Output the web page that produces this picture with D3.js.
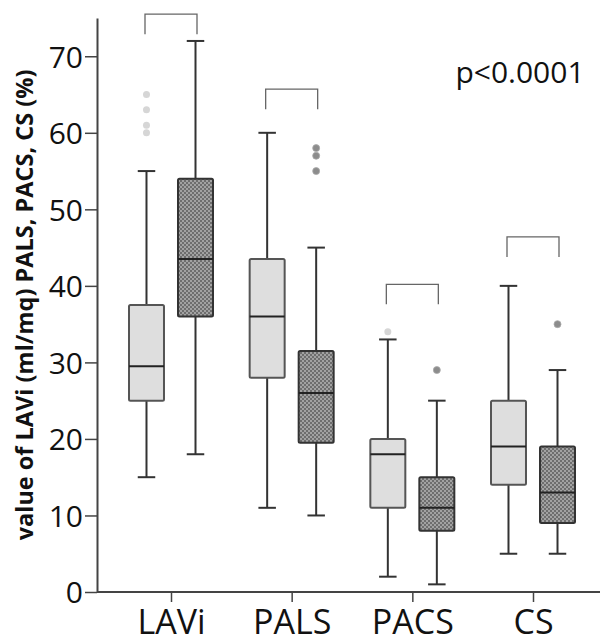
<!DOCTYPE html>
<html>
<head>
<meta charset="utf-8">
<script src="https://cdn.jsdelivr.net/npm/d3@7"></script>
<style>
  body { margin: 0; background: #fff; }
  svg { display: block; }
</style>
</head>
<body>
<div id="chart"></div>
<script>
// categories and groups
const categories = ['LAVi', 'PALS', 'PACS', 'CS'];
const groups = ['light', 'dark'];

// box statistics per group, in category order
const lightMin = [15, 11, 2, 5];
const lightQ1 = [25, 28, 11, 14];
const lightMedian = [29.5, 36, 18, 19];
const lightQ3 = [37.5, 43.5, 20, 25];
const lightMax = [55, 60, 33, 40];
const lightOutliers = [[60, 61, 63, 65], [], [34], []];

const darkMin = [18, 10, 1, 5];
const darkQ1 = [36, 19.5, 8, 9];
const darkMedian = [43.5, 26, 11, 13];
const darkQ3 = [54, 31.5, 15, 19];
const darkMax = [72, 45, 25, 29];
const darkOutliers = [[], [55, 57, 58], [29], [35]];

// significance bracket tops (in axis units)
const bracketTop = [75.5, 65.7, 40.2, 46.4];

const yTicks = [0, 10, 20, 30, 40, 50, 60, 70];
const pText = 'p<0.0001';

const width = 602;
const height = 643;
const margin = { top: 18, right: 2, bottom: 51, left: 97 };

const svg = d3.select('#chart')
	.append('svg')
	.attr('width', width)
	.attr('height', height);

// checkered fill for the second group
const defs = svg.append('defs');
const pat = defs.append('pattern')
	.attr('id', 'checker')
	.attr('patternUnits', 'userSpaceOnUse')
	.attr('width', 4)
	.attr('height', 4);
pat.append('rect').attr('width', 4).attr('height', 4).attr('fill', '#a2a2a2');
pat.append('rect').attr('width', 2).attr('height', 2).attr('fill', '#6e6e6e');
pat.append('rect').attr('x', 2).attr('y', 2).attr('width', 2).attr('height', 2).attr('fill', '#6e6e6e');

const y = d3.scaleLinear()
	.domain([0, 75])
	.range([height - margin.bottom, margin.top]);

const x = d3.scalePoint()
	.domain(categories)
	.range([171, 533]);

const sub = d3.scaleBand()
	.domain(groups)
	.range([-42, 42])
	.paddingInner(0.286)
	.paddingOuter(0);

const boxW = sub.bandwidth();

// build rows
const rows = [];
categories.forEach((c, i) => {
	rows.push({ cat: c, group: 'light', min: lightMin[i], q1: lightQ1[i], med: lightMedian[i], q3: lightQ3[i], max: lightMax[i], out: lightOutliers[i] });
	rows.push({ cat: c, group: 'dark', min: darkMin[i], q1: darkQ1[i], med: darkMedian[i], q3: darkQ3[i], max: darkMax[i], out: darkOutliers[i] });
});
const cx = (d) => x(d.cat) + sub(d.group) + boxW / 2;

// axes
const yAxis = svg.append('g')
	.attr('transform', `translate(${margin.left},0)`)
	.call(d3.axisLeft(y).tickValues(yTicks).tickSize(12).tickPadding(2).tickSizeOuter(0));
yAxis.select('.domain').attr('stroke', '#444').attr('stroke-width', 2);
yAxis.selectAll('.tick line').attr('stroke', '#444').attr('stroke-width', 1.5);
yAxis.selectAll('.tick text')
	.attr('fill', '#111')
	.style('font-family', '"Open Sans", sans-serif')
	.style('font-size', '30px')
	.attr('dy', '0.36em');

const xAxis = svg.append('g')
	.attr('transform', `translate(0,${y(0)})`)
	.call(d3.axisBottom(x).tickSize(10).tickPadding(8).tickSizeOuter(0));
xAxis.select('.domain')
	.attr('d', `M${margin.left},0H${width - margin.right}`)
	.attr('stroke', '#444').attr('stroke-width', 2);
xAxis.selectAll('.tick line').attr('stroke', '#444').attr('stroke-width', 1.5);
xAxis.selectAll('.tick text')
	.attr('fill', '#111')
	.style('font-family', '"Open Sans", sans-serif')
	.style('font-size', '34px')
	.attr('y', 42)
	.attr('dy', null);

// y title
svg.append('text')
	.attr('transform', `translate(33,${305}) rotate(-90)`)
	.attr('text-anchor', 'middle')
	.style('font-family', '"Open Sans", sans-serif')
	.style('font-weight', 'bold')
	.style('font-size', '23.5px')
	.attr('fill', '#111')
	.text('value of LAVi (ml/mq) PALS, PACS, CS (%)');

// whiskers
const wg = svg.append('g').attr('stroke', '#333').attr('stroke-width', 2);
wg.selectAll('line.stem')
	.data(rows)
	.enter()
	.append('line')
	.attr('x1', cx).attr('x2', cx)
	.attr('y1', (d) => y(d.min))
	.attr('y2', (d) => y(d.max));
wg.selectAll('line.cap')
	.data(rows.flatMap((d) => [{ d, v: d.min }, { d, v: d.max }]))
	.enter()
	.append('line')
	.attr('x1', (e) => cx(e.d) - boxW / 4)
	.attr('x2', (e) => cx(e.d) + boxW / 4)
	.attr('y1', (e) => y(e.v))
	.attr('y2', (e) => y(e.v));

// boxes
svg.selectAll('rect.box')
	.data(rows)
	.enter()
	.append('rect')
	.attr('x', (d) => cx(d) - boxW / 2)
	.attr('y', (d) => y(d.q3))
	.attr('width', boxW)
	.attr('height', (d) => y(d.q1) - y(d.q3))
	.attr('rx', 1.5)
	.attr('fill', (d) => d.group === 'light' ? '#dedede' : 'url(#checker)')
	.attr('stroke', (d) => d.group === 'light' ? '#555' : '#333')
	.attr('stroke-width', 2);

// medians
svg.selectAll('line.median')
	.data(rows)
	.enter()
	.append('line')
	.attr('x1', (d) => cx(d) - boxW / 2)
	.attr('x2', (d) => cx(d) + boxW / 2)
	.attr('y1', (d) => y(d.med))
	.attr('y2', (d) => y(d.med))
	.attr('stroke', '#222')
	.attr('stroke-width', 2);

// outliers
svg.selectAll('circle.out')
	.data(rows.flatMap((d) => d.out.map((v) => ({ d, v }))))
	.enter()
	.append('circle')
	.attr('cx', (e) => cx(e.d))
	.attr('cy', (e) => y(e.v))
	.attr('r', 3.5)
	.attr('fill', (e) => e.d.group === 'light' ? '#d6d6d6' : '#8c8c8c')
	.attr('stroke', (e) => e.d.group === 'light' ? 'none' : '#aaa')
	.attr('stroke-width', 0.8);

// brackets
svg.selectAll('path.bracket')
	.data(categories.map((c, i) => ({ c, top: bracketTop[i] })))
	.enter()
	.append('path')
	.attr('d', (b) => {
		const x0 = x(b.c) - 26;
		const x1 = x(b.c) + 26;
		const t = y(b.top);
		return `M${x0},${t + 20}V${t}H${x1}V${t + 20}`;
	})
	.attr('fill', 'none')
	.attr('stroke', '#666')
	.attr('stroke-width', 1.3);

// p value
svg.append('text')
	.attr('x', 520)
	.attr('y', 83)
	.attr('text-anchor', 'middle')
	.style('font-family', '"Open Sans", sans-serif')
	.style('font-size', '30px')
	.attr('fill', '#111')
	.text(pText);
</script>
</body>
</html>
